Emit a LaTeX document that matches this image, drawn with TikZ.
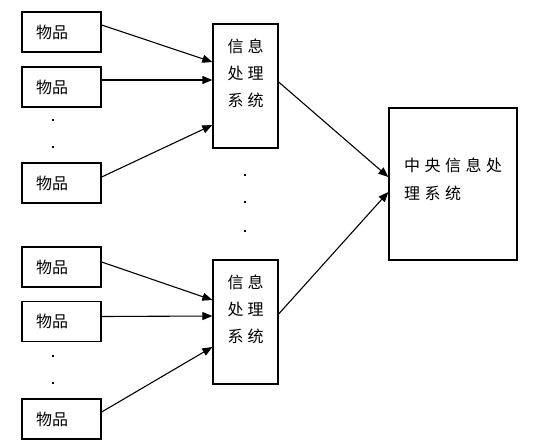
\documentclass[tikz,border=0pt]{standalone}
\usepackage{fontspec}
\setmainfont{Noto Sans CJK SC}
\usetikzlibrary{arrows.meta,calc}
\begin{document}
\begin{tikzpicture}[x=1pt,y=-1pt,
  itembox/.style={draw,line width=1.3pt,minimum width=79pt,minimum height=40pt,inner xsep=14pt,text width=51pt,align=left,font=\fontsize{16pt}{18pt}\selectfont},
  procbox/.style={draw,line width=1.3pt,minimum width=65pt,minimum height=124pt},
  procText/.style={align=center,font=\fontsize{16pt}{27pt}\selectfont,inner sep=0pt},
  centerbox/.style={draw,line width=1.3pt,minimum width=128pt,minimum height=152pt},
  centerText/.style={align=left,font=\fontsize{16pt}{28pt}\selectfont,inner sep=0pt},
  arr/.style={line width=1.1pt,-{Triangle[length=10pt,width=8pt]}},
  dotmark/.style={fill=black}
]
\useasboundingbox (0,0) rectangle (546,445);
% items
\node[itembox] (i1) at (61.5,32) {物品};
\node[itembox] (i2) at (61.5,87) {物品};
\node[itembox] (i3) at (61.5,183) {物品};
\node[itembox] (i4) at (61.5,267) {物品};
\node[itembox] (i5) at (61.5,321.5) {物品};
\node[itembox] (i6) at (61.5,419) {物品};
% processing boxes
\node[procbox] (p1) at (245.5,86) {};
\node[procText] (t1) at (245.5,73) {信\hspace{4pt}息\\处\hspace{4pt}理\\系\hspace{4pt}统};
\node[procbox] (p2) at (245.5,322) {};
\node[procText] (t2) at (245.5,309) {信\hspace{4pt}息\\处\hspace{4pt}理\\系\hspace{4pt}统};
% central box
\node[centerbox] (c) at (453,184) {};
\node[centerText,anchor=west] (ct) at (404,179) {中\hspace{4.5pt}央\hspace{4.5pt}信\hspace{4.5pt}息\hspace{4.5pt}处\\理\hspace{4.5pt}系\hspace{4.5pt}统};
% arrows into p1
\draw[arr] ($(i1.east)+(0,-7)$) -- ($(p1.west)+(0,-24)$);
\draw[arr] ($(i2.east)+(0,-7)$) -- ($(p1.west)+(0,-6)$);
\draw[arr] ($(i3.east)+(0,-6)$) -- ($(p1.west)+(0,39)$);
% arrows into p2
\draw[arr] ($(i4.east)+(0,-5)$) -- ($(p2.west)+(0,-22)$);
\draw[arr] ($(i5.east)+(0,-5)$) -- ($(p2.west)+(0,-6)$);
\draw[arr] ($(i6.east)+(0,-7)$) -- ($(p2.west)+(0,25)$);
% arrows into central
\draw[arr] ($(p1.east)+(0,-4)$) -- ($(c.west)+(0,-7)$);
\draw[arr] ($(p2.east)+(0,-8)$) -- ($(c.west)+(0,8)$);
% dots
\foreach \x/\y in {53/120,53/147,53/356,53/383,245/175,245/202,245/231}
  \fill[dotmark] (\x-1.4,\y-1.4) rectangle (\x+1.4,\y+1.4);
\end{tikzpicture}
\end{document}
